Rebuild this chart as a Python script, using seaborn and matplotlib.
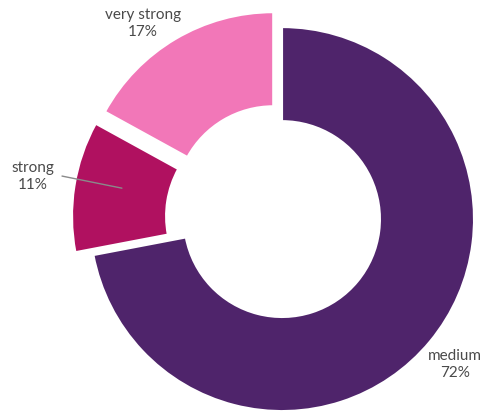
import matplotlib
matplotlib.use("Agg")
import matplotlib.pyplot as plt
import seaborn as sns

categories = ["medium", "strong", "very strong"]
shares = [72, 11, 17]
colors = ["#4f246b", "#b01160", "#f277b8"]
explode = [0.0, 0.095, 0.09]

sns.set_theme(style="white")
plt.rcParams["font.family"] = ["Lato", "DejaVu Sans"]

fig = plt.figure(figsize=(4.84, 4.13), dpi=100)
ax = fig.add_axes([0, 0, 1, 1])

ax.pie(shares, colors=colors, explode=explode, startangle=90,
       counterclock=False, radius=1.0,
       wedgeprops=dict(width=0.49, edgecolor="white", linewidth=1.5))

ax.set_xlim(-1.469, 1.052)
ax.set_ylim(-1.010, 1.141)
ax.set_aspect("auto")
ax.axis("off")

txt = dict(color="#4a4a4a", fontsize=11, ha="center", va="center", linespacing=1.3)
ax.text(-0.724, 1.02, f"{categories[2]}\n{shares[2]}%", **txt)
ax.text(-1.297, 0.22, f"{categories[1]}\n{shares[1]}%", **txt)
ax.text(0.901, -0.757, f"{categories[0]}\n{shares[0]}%", **txt)
ax.plot([-1.146, -0.834], [0.224, 0.161], color="#8a8a8a", lw=1)

fig.savefig("out.png", dpi=100)
